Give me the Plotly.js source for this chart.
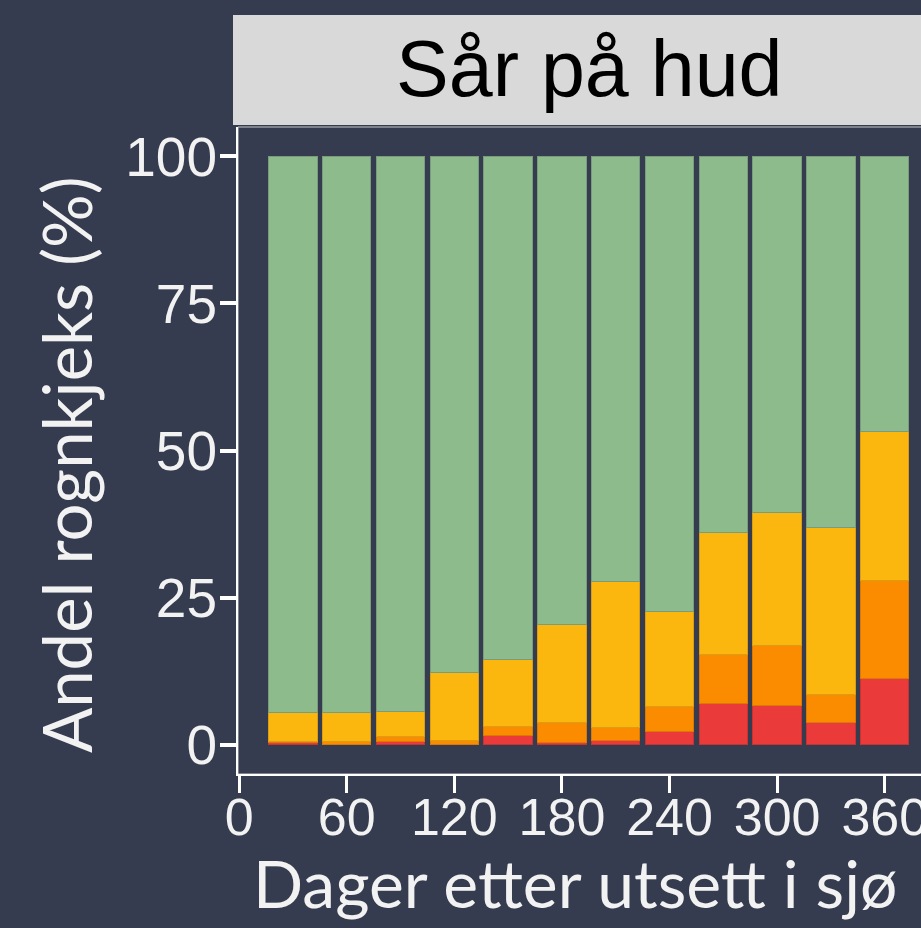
<!DOCTYPE html>
<html>
<head>
<meta charset="utf-8">
<script src="https://cdn.plot.ly/plotly-3.0.1.min.js"></script>
<style>
  html, body { margin: 0; padding: 0; overflow: hidden; background: #353c4f; }
  #chart { width: 950px; height: 928px; }
</style>
</head>
<body>
<div id="chart"></div>
<script>
// Days after release to sea
const days = [30, 60, 90, 120, 150, 180, 210, 240, 270, 300, 330, 360];
// Share of lumpfish (%) per skin-wound score
const score3 = [0.3, 0.0, 0.45, 0.0, 1.6, 0.3, 0.7, 2.15, 7.0, 6.7, 3.8, 11.3];   // red
const score2 = [0.2, 0.45, 0.9, 0.7, 1.45, 3.5, 2.15, 4.3, 8.4, 10.1, 4.75, 16.6]; // orange
const score1 = [4.9, 4.95, 4.3, 11.5, 11.4, 16.55, 24.85, 16.1, 20.6, 22.6, 28.3, 25.25]; // yellow
const score0 = days.map((d, i) => 100 - score3[i] - score2[i] - score1[i]);      // green (remainder)
const xTicks = [0, 60, 120, 180, 240, 300, 360];
const yTicks = [0, 25, 50, 75, 100];
const facetTitle = "Sår på hud";
const xTitle = "Dager etter utsett i sjø";
const yTitle = "Andel rognkjeks (%)";

const BG = "#353c4f";
const seriesDefs = [
  { name: "3", y: score3, color: "#ea3b3a", line: "#c93232" },
  { name: "2", y: score2, color: "#fb8c00", line: "#d97a06" },
  { name: "1", y: score1, color: "#fbb70e", line: "#d99e16" },
  { name: "0", y: score0, color: "#8dbb8b", line: "#7a9c7e" }
];

const traces = seriesDefs.map(s => ({
  type: "bar",
  x: days,
  y: s.y,
  name: s.name,
  width: 27,
  marker: { color: s.color, line: { color: s.line, width: 1 } },
  hoverinfo: "x+y+name"
}));

// pixel geometry helpers
const L = 238, T = 127, W = 950, H = 928, B = 774, R = 941;
const px2x = p => (p - L) / (R - L);
const py2y = p => (B - p) / (B - T);

const layout = {
  width: W, height: H,
  margin: { l: L, r: W - R, t: T, b: H - B, pad: 0 },
  paper_bgcolor: BG,
  plot_bgcolor: BG,
  barmode: "stack",
  bargap: 0,
  showlegend: false,
  xaxis: {
    range: [-0.6, 391.35],
    tickvals: xTicks,
    ticktext: xTicks.map(String),
    ticks: "outside", ticklen: 17, tickwidth: 3, tickcolor: "#ffffff",
    showline: true, linecolor: "#ffffff", linewidth: 2,
    showgrid: false, zeroline: false,
    tickfont: { family: "Liberation Sans, Arial, sans-serif", size: 52, color: "#f2f2f2" },
    ticklabelstandoff: -20
  },
  yaxis: {
    range: [-5, 105],
    tickvals: yTicks,
    ticktext: yTicks.map(String),
    ticks: "outside", ticklen: 16, tickwidth: 4, tickcolor: "#ffffff",
    showline: true, linecolor: "#ffffff", linewidth: 2,
    showgrid: false, zeroline: false,
    tickfont: { family: "Liberation Sans, Arial, sans-serif", size: 55, color: "#f2f2f2" },
    ticklabelstandoff: -8
  },
  shapes: [
    { type: "rect", xref: "paper", yref: "paper", x0: 0, x1: 1, y0: 0, y1: 1,
      line: { color: "#c8c8c8", width: 1 }, fillcolor: "rgba(0,0,0,0)", layer: "below" },
    { type: "rect", xref: "paper", yref: "paper",
      x0: px2x(233), x1: px2x(960), y0: py2y(125), y1: py2y(15),
      line: { width: 0 }, fillcolor: "#d9d9d9", layer: "above" }
  ],
  annotations: [
    { text: facetTitle, xref: "paper", yref: "paper", x: px2x(589), y: py2y(69),
      xanchor: "center", yanchor: "middle", showarrow: false,
      font: { family: "Liberation Sans, Arial, sans-serif", size: 79, color: "#000000" } },
    { text: xTitle, xref: "paper", yref: "paper", x: px2x(575), y: py2y(882),
      xanchor: "center", yanchor: "middle", showarrow: false,
      font: { family: "Lato, Open Sans, sans-serif", size: 66, color: "#f2f2f2" } },
    { text: yTitle, xref: "paper", yref: "paper", x: px2x(66), y: py2y(465),
      xanchor: "center", yanchor: "middle", showarrow: false, textangle: -90,
      font: { family: "Lato, Open Sans, sans-serif", size: 67, color: "#f2f2f2" } }
  ]
};

Plotly.newPlot("chart", traces, layout, { displayModeBar: false, staticPlot: true });
</script>
</body>
</html>
